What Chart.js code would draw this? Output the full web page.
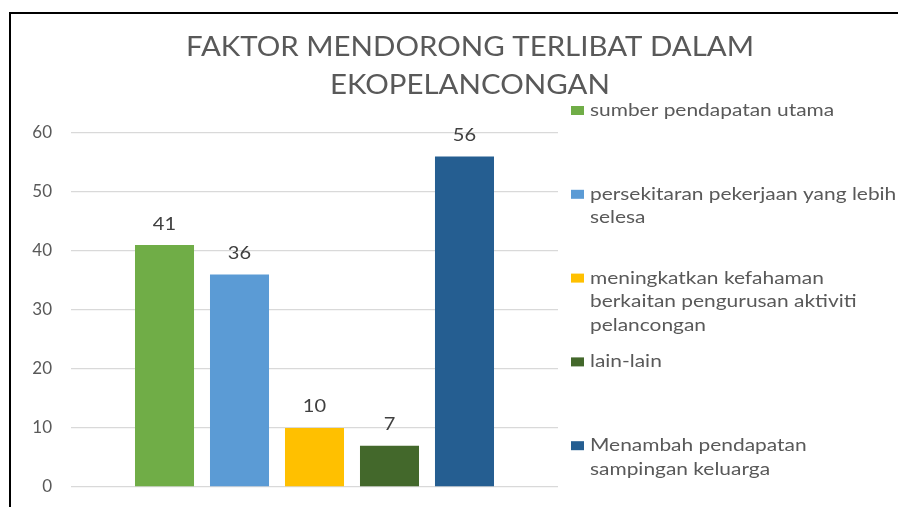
<!DOCTYPE html>
<html>
<head>
<meta charset="utf-8">
<script src="https://cdn.jsdelivr.net/npm/chart.js@4/dist/chart.umd.min.js"></script>
<style>
  html, body { margin: 0; padding: 0; background: #fff; }
  #wrap { position: relative; width: 898px; height: 507px; overflow: hidden; }
  #frame { position: absolute; left: 9px; top: 12px; width: 900px; height: 500px;
           border-left: 2px solid #000; border-top: 2px solid #000; pointer-events: none; }
  canvas { position: absolute; left: 0; top: 0; }
</style>
</head>
<body>
<div id="wrap">
  <canvas id="myChart" width="898" height="507"></canvas>
  <div id="frame"></div>
</div>
<script>
// data
var titleLines = ['FAKTOR MENDORONG TERLIBAT DALAM', 'EKOPELANCONGAN'];
var seriesNames = [
  ['sumber pendapatan utama'],
  ['persekitaran pekerjaan yang lebih', 'selesa'],
  ['meningkatkan kefahaman', 'berkaitan pengurusan aktiviti', 'pelancongan'],
  ['lain-lain'],
  ['Menambah pendapatan', 'sampingan keluarga']
];
var seriesValues = [41, 36, 10, 7, 56];
var yTicks = [0, 10, 20, 30, 40, 50, 60];

var seriesColors = ['#70AD47', '#5B9BD5', '#FFC000', '#43682B', '#255E91'];
var textColor = '#595959';
var fontName = 'Lato, "Open Sans", sans-serif';

// the source picture is a bit wide, so text gets stretched sideways
function wideText(ctx, txt, x, y, align, sx) {
  ctx.save();
  ctx.translate(x, y);
  ctx.scale(sx, 1);
  ctx.textAlign = align;
  ctx.fillText(txt, 0, 0);
  ctx.restore();
}

var extras = {
  id: 'extras',
  afterDraw: function (chart) {
    var ctx = chart.ctx;
    ctx.save();
    ctx.fillStyle = textColor;

    // title
    ctx.font = '27px ' + fontName;
    ctx.textBaseline = 'alphabetic';
    wideText(ctx, titleLines[0], 470, 56, 'center', 1.09);
    wideText(ctx, titleLines[1], 470, 94, 'center', 1.09);

    // value labels
    ctx.font = '17px ' + fontName;
    ctx.textBaseline = 'middle';
    ctx.fillStyle = '#404040';
    chart.data.datasets.forEach(function (ds, i) {
      var bar = chart.getDatasetMeta(i).data[0];
      wideText(ctx, String(ds.data[0]), bar.x, bar.y - 21, 'center', 1.18);
    });

    // legend
    ctx.font = '17px ' + fontName;
    chart.data.datasets.forEach(function (ds, i) {
      var y = 110.5 + i * 83.8;
      ctx.fillStyle = ds.backgroundColor;
      ctx.fillRect(571, y - 4.5, 13, 9);
      ctx.fillStyle = textColor;
      seriesNames[i].forEach(function (line, k) {
        wideText(ctx, line, 590, y + k * 23.5, 'left', 1.23);
      });
    });
    ctx.restore();
  }
};

const ctx = document.getElementById('myChart');

new Chart(ctx, {
  type: 'bar',
  data: {
    labels: [''],
    datasets: seriesValues.map(function (v, i) {
      return {
        label: seriesNames[i].join(' '),
        data: [v],
        backgroundColor: seriesColors[i],
        borderWidth: 0,
        categoryPercentage: 0.77,
        barPercentage: 0.787,
      };
    }),
  },
  options: {
    responsive: false,
    animation: false,
    devicePixelRatio: 1,
    layout: { padding: { left: 0, top: 133, right: 340, bottom: 20 } },
    plugins: {
      legend: { display: false },
      title: { display: false },
      tooltip: { enabled: false },
    },
    scales: {
      x: { display: false },
      y: {
        min: yTicks[0],
        max: yTicks[yTicks.length - 1],
        afterFit: function (scale) {
          scale.width = 71;
          scale.paddingTop = 0;
          scale.paddingBottom = 0;
        },
        ticks: {
          stepSize: yTicks[1] - yTicks[0],
          padding: 19,
          color: textColor,
          font: { family: fontName, size: 17 },
        },
        grid: { color: '#D9D9D9', lineWidth: 1.3, drawTicks: false },
        border: { display: false },
      },
    },
  },
  plugins: [extras],
});
</script>
</body>
</html>
